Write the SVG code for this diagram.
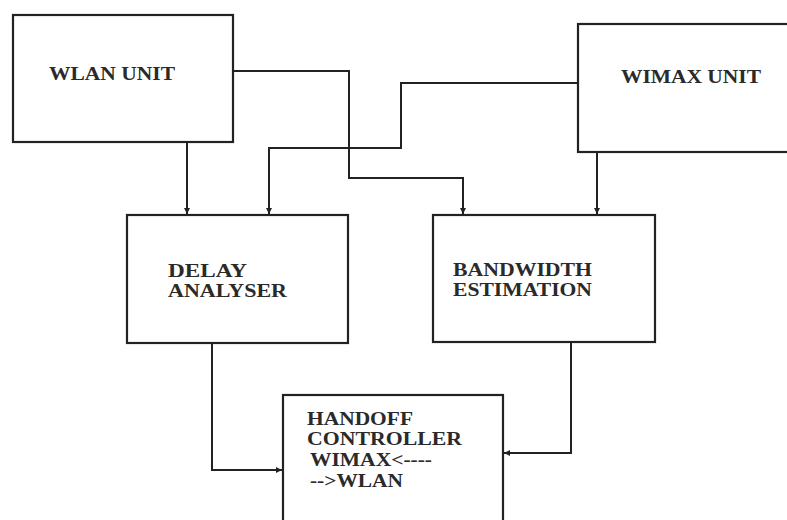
<svg xmlns="http://www.w3.org/2000/svg" width="787" height="520" viewBox="0 0 787 520">
<style>
.box{fill:#fff;stroke:#222;stroke-width:2.2}
.lbl{font-family:"Liberation Serif","Times New Roman",serif;font-weight:bold;font-size:18px;fill:#2a2a2a}
.wire{fill:none;stroke:#222;stroke-width:2}
</style>
<defs>
<marker id="ah" viewBox="0 0 10 10" refX="10" refY="5" markerWidth="6" markerHeight="6" orient="auto" markerUnits="userSpaceOnUse">
<path d="M0,0 L10,5 L0,10 z" fill="#222"/>
</marker>
</defs>
<rect width="787" height="520" fill="#fff"/>
<g id="connectors">
<path class="wire" d="M187,142 V214" marker-end="url(#ah)"/>
<path class="wire" d="M233,71 H349 V178 H463 V214" marker-end="url(#ah)"/>
<path class="wire" d="M578,83 H401 V148 H269 V214" marker-end="url(#ah)"/>
<path class="wire" d="M597,152 V214" marker-end="url(#ah)"/>
<path class="wire" d="M212,343 V470 H282" marker-end="url(#ah)"/>
<path class="wire" d="M571,342 V453 H504" marker-end="url(#ah)"/>
</g>
<g id="wlan">
<rect class="box" x="13" y="15" width="220" height="127"/>
<text class="lbl" x="49" y="80" textLength="126" lengthAdjust="spacingAndGlyphs">WLAN UNIT</text>
</g>
<g id="wimax">
<rect class="box" x="578" y="24" width="230" height="128"/>
<text class="lbl" x="621" y="83" textLength="140" lengthAdjust="spacingAndGlyphs">WIMAX UNIT</text>
</g>
<g id="delay">
<rect class="box" x="127" y="215" width="221" height="128"/>
<text class="lbl" x="168" y="277" textLength="79" lengthAdjust="spacingAndGlyphs">DELAY</text>
<text class="lbl" x="168" y="297" textLength="119" lengthAdjust="spacingAndGlyphs">ANALYSER</text>
</g>
<g id="bandwidth">
<rect class="box" x="433" y="215" width="222" height="127"/>
<text class="lbl" x="453" y="276" textLength="139" lengthAdjust="spacingAndGlyphs">BANDWIDTH</text>
<text class="lbl" x="453" y="296" textLength="139" lengthAdjust="spacingAndGlyphs">ESTIMATION</text>
</g>
<g id="handoff">
<rect class="box" x="283" y="395" width="220" height="140"/>
<text class="lbl" x="307" y="425" textLength="106" lengthAdjust="spacingAndGlyphs">HANDOFF</text>
<text class="lbl" x="307" y="445" textLength="155" lengthAdjust="spacingAndGlyphs">CONTROLLER</text>
<text class="lbl" x="310" y="466" textLength="122" lengthAdjust="spacingAndGlyphs">WIMAX&lt;----</text>
<text class="lbl" x="310" y="487" textLength="93" lengthAdjust="spacingAndGlyphs">--&gt;WLAN</text>
</g>
</svg>
